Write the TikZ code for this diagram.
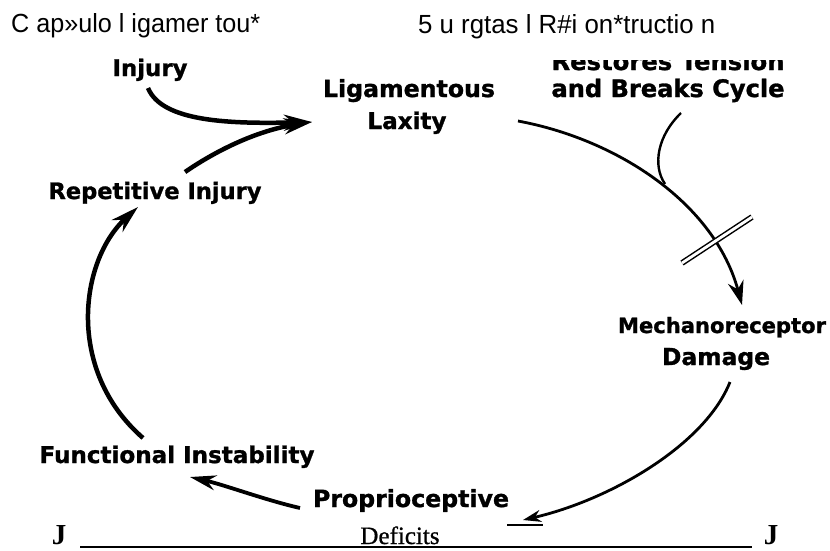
\documentclass[tikz,border=0pt]{standalone}
\usepackage{fontspec}
\setmainfont{Liberation Serif}
\newfontfamily\hdrfont{Liberation Sans}
\newfontfamily\lblfont{DejaVu Sans}[FakeBold=1.2]
\newfontfamily\defont{Liberation Serif}[FakeBold=0.8]
\usetikzlibrary{arrows.meta,calc}
\begin{document}
\begin{tikzpicture}[x=1pt,y=-1pt,
  lbl/.style={inner sep=0pt, anchor=base, font=\lblfont\bfseries},
  hdr/.style={inner sep=0pt, anchor=base west, font=\hdrfont},
  serifj/.style={inner sep=0pt, anchor=base, font=\bfseries\fontsize{29}{29}\selectfont},
  bigarc/.style={line width=4.5pt, -{Stealth[length=28pt,width=16pt]}},
  midarc/.style={line width=3.8pt, -{Stealth[length=26pt,width=15pt]}},
  thinarc/.style={line width=2.8pt, -{Stealth[length=24pt,width=16pt]}},
  smallarc/.style={line width=2.8pt, -{Stealth[length=18pt,width=12pt]}},
  crossbar/.style={line width=1.5pt, double=white, double distance=2.8pt},
]
\useasboundingbox (0,0) rectangle (830,550);

% headers
\node[hdr] (h1) at (11,32) {\resizebox{249pt}{19pt}{C ap»ulo l igamer tou*}};
\node[hdr] (h2) at (418,33) {\resizebox{297pt}{19pt}{5 u rgtas l R\#i on*tructio n}};

% labels
\node[lbl] (inj) at (150,76) {\resizebox{75pt}{!}{Injury}};
\node[lbl] (lig) at (409,97) {\resizebox{172pt}{!}{Ligamentous}};
\node[lbl] (lax) at (407,129) {\resizebox{79pt}{!}{Laxity}};
\begin{scope}
  \clip (540,60) rectangle (830,80);
  \node[lbl] (res1) at (668,70) {\resizebox{233pt}{!}{Restores Tension}};
\end{scope}
\node[lbl] (res2) at (668,97) {\resizebox{233pt}{!}{and Breaks Cycle}};
\node[lbl] (rep) at (155,199) {\resizebox{213pt}{!}{Repetitive Injury}};
\node[lbl] (mech) at (722,333) {\resizebox{208pt}{!}{Mechanoreceptor}};
\node[lbl] (dam) at (716,365) {\resizebox{108pt}{!}{Damage}};
\node[lbl] (fun) at (177,463) {\resizebox{275pt}{!}{Functional Instability}};
\node[lbl] (pro) at (411,507) {\resizebox{196pt}{!}{Proprioceptive}};

% bottom line
\node[inner sep=0pt, anchor=base, font=\defont\fontsize{25}{25}\selectfont] (def) at (400,544) {Deficits};
\node[serifj] (j1) at (59,544) {J};
\node[serifj] (j2) at (771,544) {J};
\draw[line width=2.6pt] ($(j1.base east)+(14,3)$) -- ($(j2.base west)+(-12,3)$);

% connector end points
\coordinate (injS) at (148,88);
\coordinate (ligW) at (312,122);
\coordinate (repN) at (185,172);
\coordinate (laxE) at (518,121);
\coordinate (mechN) at (742,305);
\coordinate (resS) at (681,113);
\coordinate (join) at (665,184);
\coordinate (cx1) at (682,263);
\coordinate (cx2) at (752,217);
\coordinate (damS) at (730,382);
\coordinate (proE) at (523,520);
\coordinate (proW) at (300,508);
\coordinate (funE) at (190,477);
\coordinate (funN) at (143,438);
\coordinate (repS) at (138,207);

% connectors
\draw[bigarc] (injS) .. controls (162,122) and (230,124) .. (ligW);
\draw[bigarc] (repN) .. controls (220,148) and (260,130) .. (ligW);
\draw[thinarc] (laxE) .. controls (620,140) and (715,205) .. (mechN);
\draw[line width=2.4pt] (resS) .. controls (658,135) and (652,165) .. (join);
\draw[crossbar] (cx1) -- (cx2);
\draw[smallarc] (damS) .. controls (705,445) and (610,500) .. (proE);
\draw[line width=1.5pt] ($(proE)+(-16,5)$) -- ($(proE)+(20,5)$);
\draw[midarc] (proW) .. controls (265,500) and (225,485) .. (funE);
\draw[bigarc] (funN) .. controls (65,370) and (80,260) .. (repS);
\end{tikzpicture}
\end{document}
